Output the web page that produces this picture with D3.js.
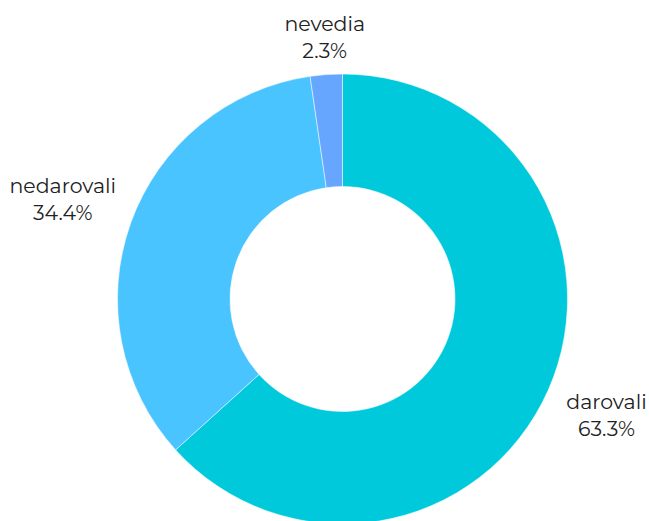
<!DOCTYPE html>
<html>
<head>
<meta charset="utf-8">
<script src="https://cdn.jsdelivr.net/npm/d3@7"></script>
<style>
  body { margin: 0; background: #fff; }
  svg text { font-family: "Montserrat", "Lato", "Noto Sans", sans-serif; font-weight: 400; fill: #222; }
</style>
</head>
<body>
<div id="chart"></div>
<script>
// chart data
const labels = ["darovali", "nedarovali", "nevedia"];
const values = [63.3, 34.4, 2.3];
const colors = ["#00C9DC", "#4AC4FF", "#66A6FF"];

const width = 649;
const height = 521;
const cx = 342.5, cy = 299;
const outerR = 225, innerR = 112.5;
const labelR = 246;

const svg = d3.select("#chart")
  .append("svg")
  .attr("width", width)
  .attr("height", height);

const g = svg.append("g")
  .attr("transform", "translate(" + cx + "," + cy + ")");

const data = labels.map((l, i) => ({ label: l, value: values[i], color: colors[i] }));

const pie = d3.pie()
  .value(d => d.value)
  .sort(null);

const arc = d3.arc()
  .innerRadius(innerR)
  .outerRadius(outerR);

const arcs = pie(data);

// slices
g.selectAll("path")
  .data(arcs)
  .enter().append("path")
  .attr("d", arc)
  .attr("fill", d => d.data.color)
  .attr("stroke", "#fff")
  .attr("stroke-width", 0.5);

// outside labels, each one a centered two-line block
const lineH = 27;
arcs.forEach(function (d) {
  const mid = (d.startAngle + d.endAngle) / 2;
  const sx = Math.sin(mid), sy = -Math.cos(mid);
  const x = sx * labelR;
  const y = sy * labelR;
  const t = g.append("text")
    .attr("text-anchor", "middle")
    .style("font-size", "20.5px");
  const l1 = t.append("tspan").text(d.data.label);
  const l2 = t.append("tspan").text(d.data.value + "%");
  const w = Math.max(l1.node().getComputedTextLength(), l2.node().getComputedTextLength());
  let bx = x;
  if (Math.abs(sx) > 0.2) bx = sx > 0 ? x + w / 2 - 1 : x - w / 2 + 5;
  const firstBase = sy < 0 ? y + 4 - lineH : y + 10;
  l1.attr("x", bx).attr("y", firstBase);
  l2.attr("x", bx).attr("y", firstBase + lineH);
});
</script>
</body>
</html>
